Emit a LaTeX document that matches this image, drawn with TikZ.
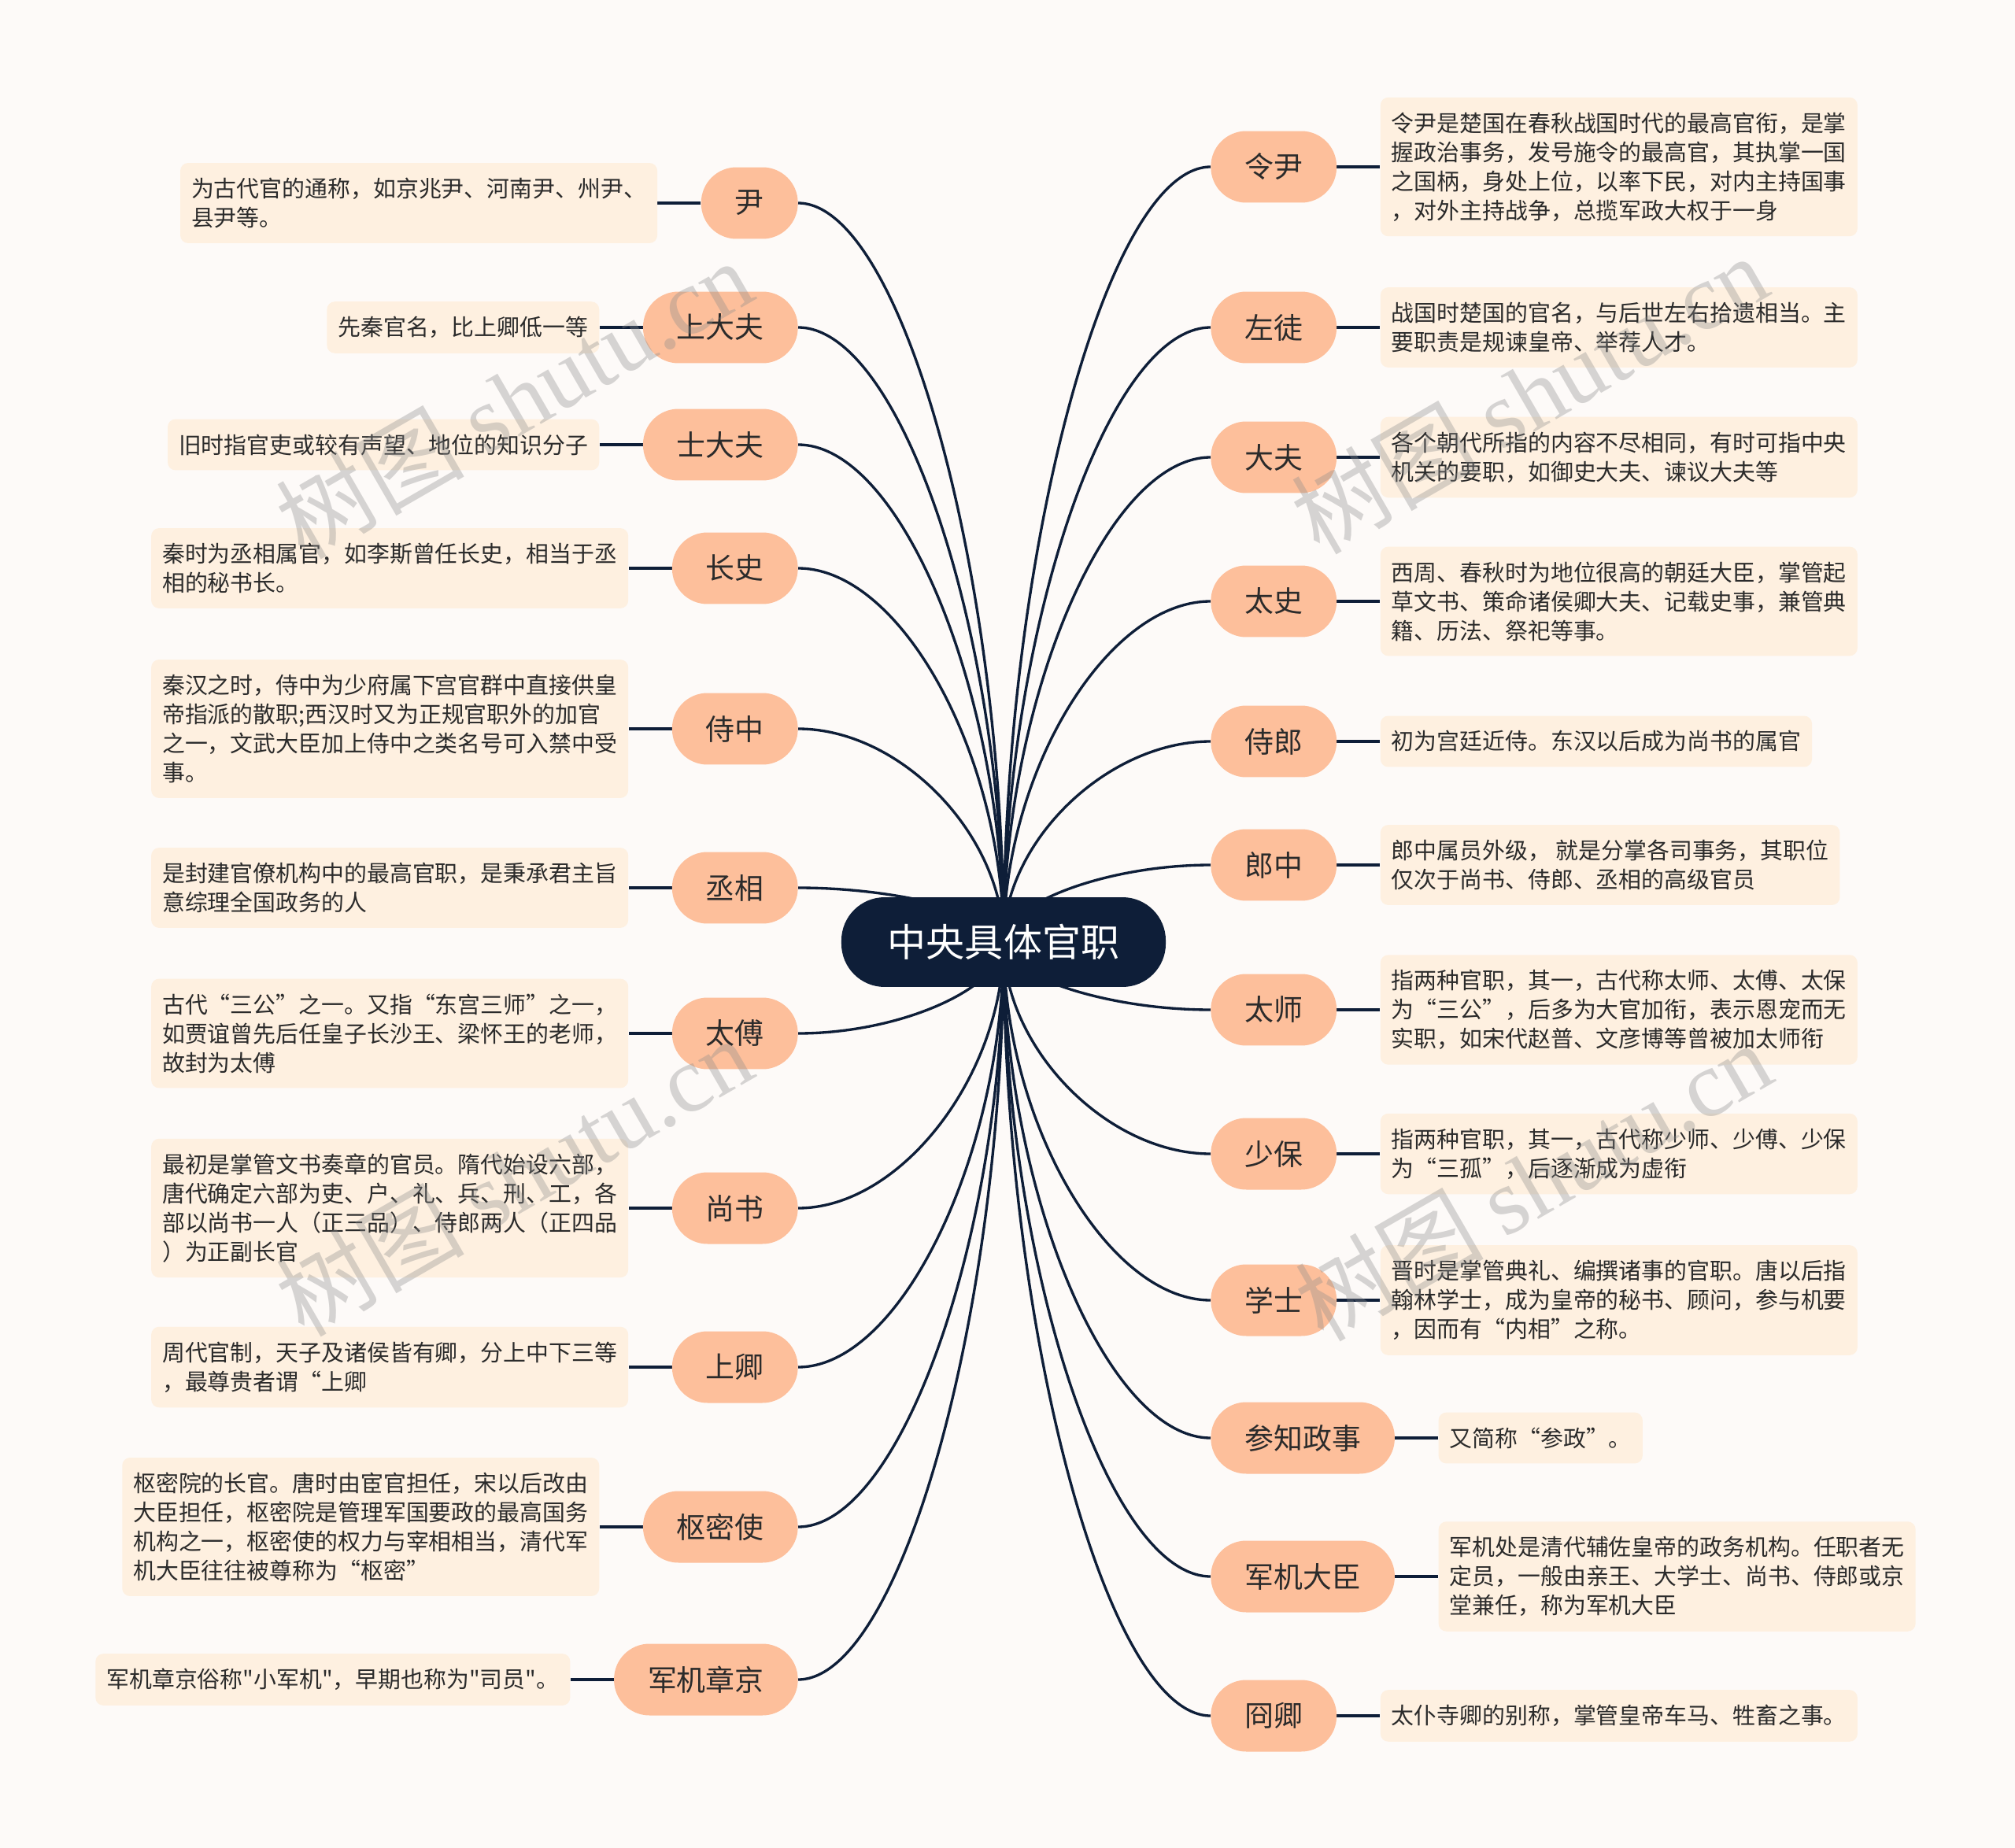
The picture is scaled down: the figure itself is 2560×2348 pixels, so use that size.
\documentclass[tikz,border=0pt]{standalone}
\usepackage{fontspec}
\setmainfont{Noto Sans CJK SC}[Ligatures=TeXOff]
\newfontfamily\wmlatin{Liberation Serif}
\usetikzlibrary{positioning,calc}
\definecolor{pagebg}{HTML}{FDFAF8}
\definecolor{navy}{HTML}{0E1E38}
\definecolor{peach}{HTML}{FDBF9B}
\definecolor{cream}{HTML}{FEF0E0}
\definecolor{ink}{HTML}{2B2B2B}
\pgfdeclarelayer{bg}
\pgfdeclarelayer{links}
\pgfsetlayers{bg,links,main}

\begin{document}
\begin{tikzpicture}[x=0.02cm, y=-0.02cm, node distance=1.1cm,
    root/.style={fill=navy, text=white, rounded corners=1.1cm, minimum height=2.28cm, inner xsep=1.18cm, font=\fontsize{27.9}{30}\selectfont},
    post/.style={fill=peach, text=ink, rounded corners=0.9cm, minimum height=1.82cm, inner xsep=0.86cm, inner ysep=0pt, font=\fontsize{21}{24}\selectfont},
    note/.style={fill=cream, text=ink, rounded corners=0.2cm, inner xsep=0.28cm, inner ysep=0.38cm, align=left, font=\fontsize{16.45}{21.05}\selectfont},
    branch/.style={navy, line width=1.9pt, to path={.. controls ($(\tikztostart)!0.5!(\tikztostart|-\tikztotarget)$) and ($(\tikztotarget)!0.5!(\tikztostart|-\tikztotarget)$) .. (\tikztotarget)}},
    link/.style={navy, line width=2.2pt},
    wmark/.style={text=black!45, text opacity=0.35, rotate=30, font=\fontsize{68}{70}\selectfont}]
        \useasboundingbox (0,0) rectangle (2560,2348);
        \begin{pgfonlayer}{bg}
            \fill[pagebg] (0,0) rectangle (2560,2348);
        \end{pgfonlayer}

        \node[root] (root) at (1275,1197) {中央具体官职};

        \node[post, anchor=west] (r1) at (1538,212) {令尹};
        \node[post, anchor=west] (r2) at (1538,416) {左徒};
        \node[post, anchor=west] (r3) at (1538,581) {大夫};
        \node[post, anchor=west] (r4) at (1538,764) {太史};
        \node[post, anchor=west] (r5) at (1538,942) {侍郎};
        \node[post, anchor=west] (r6) at (1538,1099) {郎中};
        \node[post, anchor=west] (r7) at (1538,1283) {太师};
        \node[post, anchor=west] (r8) at (1538,1466) {少保};
        \node[post, anchor=west] (r9) at (1538,1652) {学士};
        \node[post, anchor=west] (r10) at (1538,1827) {参知政事};
        \node[post, anchor=west] (r11) at (1538,2003) {军机大臣};
        \node[post, anchor=west] (r12) at (1538,2180) {冏卿};

        \node[note, right=of r1] (r1t) {令尹是楚国在春秋战国时代的最高官衔，是掌\\握政治事务，发号施令的最高官，其执掌一国\\之国柄，身处上位，以率下民，对内主持国事\\，对外主持战争，总揽军政大权于一身};
        \node[note, right=of r2] (r2t) {战国时楚国的官名，与后世左右拾遗相当。主\\要职责是规谏皇帝、举荐人才。};
        \node[note, right=of r3] (r3t) {各个朝代所指的内容不尽相同，有时可指中央\\机关的要职，如御史大夫、谏议大夫等};
        \node[note, right=of r4] (r4t) {西周、春秋时为地位很高的朝廷大臣，掌管起\\草文书、策命诸侯卿大夫、记载史事，兼管典\\籍、历法、祭祀等事。};
        \node[note, right=of r5] (r5t) {初为宫廷近侍。东汉以后成为尚书的属官};
        \node[note, right=of r6] (r6t) {郎中属员外级， 就是分掌各司事务，其职位\\仅次于尚书、侍郎、丞相的高级官员};
        \node[note, right=of r7] (r7t) {指两种官职，其一，古代称太师、太傅、太保\\为“三公”，后多为大官加衔，表示恩宠而无\\实职，如宋代赵普、文彦博等曾被加太师衔};
        \node[note, right=of r8] (r8t) {指两种官职，其一，古代称少师、少傅、少保\\为“三孤”，后逐渐成为虚衔};
        \node[note, right=of r9] (r9t) {晋时是掌管典礼、编撰诸事的官职。唐以后指\\翰林学士，成为皇帝的秘书、顾问，参与机要\\，因而有“内相”之称。};
        \node[note, right=of r10] (r10t) {又简称“参政”。};
        \node[note, right=of r11] (r11t) {军机处是清代辅佐皇帝的政务机构。任职者无\\定员，一般由亲王、大学士、尚书、侍郎或京\\堂兼任，称为军机大臣};
        \node[note, right=of r12] (r12t) {太仆寺卿的别称，掌管皇帝车马、牲畜之事。};

        \node[post, anchor=east] (l1) at (1014,258) {尹};
        \node[post, anchor=east] (l2) at (1014,416) {上大夫};
        \node[post, anchor=east] (l3) at (1014,565) {士大夫};
        \node[post, anchor=east] (l4) at (1014,722) {长史};
        \node[post, anchor=east] (l5) at (1014,926) {侍中};
        \node[post, anchor=east] (l6) at (1014,1128) {丞相};
        \node[post, anchor=east] (l7) at (1014,1313) {太傅};
        \node[post, anchor=east] (l8) at (1014,1535) {尚书};
        \node[post, anchor=east] (l9) at (1014,1737) {上卿};
        \node[post, anchor=east] (l10) at (1014,1940) {枢密使};
        \node[post, anchor=east] (l11) at (1014,2134) {军机章京};

        \node[note, left=of l1] (l1t) {为古代官的通称，如京兆尹、河南尹、州尹、\\县尹等。};
        \node[note, left=of l2] (l2t) {先秦官名，比上卿低一等};
        \node[note, left=of l3] (l3t) {旧时指官吏或较有声望、地位的知识分子};
        \node[note, left=of l4] (l4t) {秦时为丞相属官，如李斯曾任长史，相当于丞\\相的秘书长。};
        \node[note, left=of l5] (l5t) {秦汉之时，侍中为少府属下宫官群中直接供皇\\帝指派的散职;西汉时又为正规官职外的加官\\之一，文武大臣加上侍中之类名号可入禁中受\\事。};
        \node[note, left=of l6] (l6t) {是封建官僚机构中的最高官职，是秉承君主旨\\意综理全国政务的人};
        \node[note, left=of l7] (l7t) {古代“三公”之一。又指“东宫三师”之一，\\如贾谊曾先后任皇子长沙王、梁怀王的老师，\\故封为太傅};
        \node[note, left=of l8] (l8t) {最初是掌管文书奏章的官员。隋代始设六部，\\唐代确定六部为吏、户、礼、兵、刑、工，各\\部以尚书一人（正三品）、侍郎两人（正四品\\）为正副长官};
        \node[note, left=of l9] (l9t) {周代官制，天子及诸侯皆有卿，分上中下三等\\，最尊贵者谓“上卿};
        \node[note, left=of l10] (l10t) {枢密院的长官。唐时由宦官担任，宋以后改由\\大臣担任，枢密院是管理军国要政的最高国务\\机构之一，枢密使的权力与宰相相当，清代军\\机大臣往往被尊称为“枢密”};
        \node[note, left=of l11] (l11t) {军机章京俗称"小军机"，早期也称为"司员"。};

        \begin{pgfonlayer}{links}
            \draw[branch] (root.center) to (r1.west);
            \draw[branch] (root.center) to (r2.west);
            \draw[branch] (root.center) to (r3.west);
            \draw[branch] (root.center) to (r4.west);
            \draw[branch] (root.center) to (r5.west);
            \draw[branch] (root.center) to (r6.west);
            \draw[branch] (root.center) to (r7.west);
            \draw[branch] (root.center) to (r8.west);
            \draw[branch] (root.center) to (r9.west);
            \draw[branch] (root.center) to (r10.west);
            \draw[branch] (root.center) to (r11.west);
            \draw[branch] (root.center) to (r12.west);
            \draw[branch] (root.center) to (l1.east);
            \draw[branch] (root.center) to (l2.east);
            \draw[branch] (root.center) to (l3.east);
            \draw[branch] (root.center) to (l4.east);
            \draw[branch] (root.center) to (l5.east);
            \draw[branch] (root.center) to (l6.east);
            \draw[branch] (root.center) to (l7.east);
            \draw[branch] (root.center) to (l8.east);
            \draw[branch] (root.center) to (l9.east);
            \draw[branch] (root.center) to (l10.east);
            \draw[branch] (root.center) to (l11.east);

            \draw[link] (r1) -- (r1t);
            \draw[link] (r2) -- (r2t);
            \draw[link] (r3) -- (r3t);
            \draw[link] (r4) -- (r4t);
            \draw[link] (r5) -- (r5t);
            \draw[link] (r6) -- (r6t);
            \draw[link] (r7) -- (r7t);
            \draw[link] (r8) -- (r8t);
            \draw[link] (r9) -- (r9t);
            \draw[link] (r10) -- (r10t);
            \draw[link] (r11) -- (r11t);
            \draw[link] (r12) -- (r12t);
            \draw[link] (l1) -- (l1t);
            \draw[link] (l2) -- (l2t);
            \draw[link] (l3) -- (l3t);
            \draw[link] (l4) -- (l4t);
            \draw[link] (l5) -- (l5t);
            \draw[link] (l6) -- (l6t);
            \draw[link] (l7) -- (l7t);
            \draw[link] (l8) -- (l8t);
            \draw[link] (l9) -- (l9t);
            \draw[link] (l10) -- (l10t);
            \draw[link] (l11) -- (l11t);
        \end{pgfonlayer}

        \node[wmark] (wm1) at (653,506) {树图 {\wmlatin shutu.cn}};
        \node[wmark] (wm2) at (1943,500) {树图 {\wmlatin shutu.cn}};
        \node[wmark] (wm3) at (653,1494) {树图 {\wmlatin shutu.cn}};
        \node[wmark] (wm4) at (1948,1500) {树图 {\wmlatin shutu.cn}};
    \end{tikzpicture}
\end{document}
